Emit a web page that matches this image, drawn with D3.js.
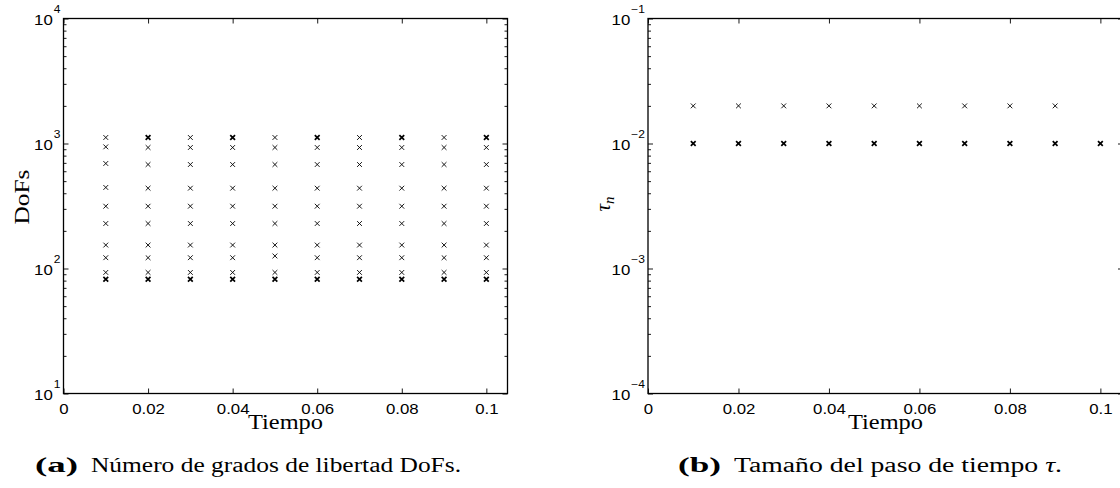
<!DOCTYPE html>
<html>
<head>
<meta charset="utf-8">
<script src="https://cdn.jsdelivr.net/npm/d3@7"></script>
<style>
  body { margin: 0; background: #fff; }
  text { fill: #000; }
</style>
</head>
<body>
<svg id="chart" width="1120" height="488"></svg>
<script>
// time steps (x axis of both panels)
const times = [0.01, 0.02, 0.03, 0.04, 0.05, 0.06, 0.07, 0.08, 0.09, 0.1];

// DoFs of every adaptive iteration at each time step (panel a)
const dofsOdd = [1117, 929, 679, 439, 315, 229, 154, 122, 93, 82, 82];
const dofsEven = [1117, 1117, 929, 679, 439, 315, 229, 154, 122, 93, 82, 82];
const dofs = [
  [1117, 940, 692, 445, 315, 229, 154, 122, 93, 82, 82],
  dofsEven,
  dofsOdd,
  dofsEven,
  [1117, 929, 679, 439, 315, 229, 154, 126, 93, 82, 82],
  dofsEven,
  dofsOdd,
  dofsEven,
  dofsOdd,
  dofsEven
];

// time step sizes tau_n tried at each time step (panel b)
const taus = [
  [0.02, 0.01, 0.01],
  [0.02, 0.01, 0.01],
  [0.02, 0.01, 0.01],
  [0.02, 0.01, 0.01],
  [0.02, 0.01, 0.01],
  [0.02, 0.01, 0.01],
  [0.02, 0.01, 0.01],
  [0.02, 0.01, 0.01],
  [0.02, 0.01, 0.01],
  [0.01, 0.01]
];

const xTicks = [0, 0.02, 0.04, 0.06, 0.08, 0.1];
const dofsDecades = [1, 2, 3, 4];
const tauDecades = [-4, -3, -2, -1];

const svg = d3.select('#chart');
const SX = 1.2; // the original figure is stretched horizontally

// widen a text to mimic the stretched figure
function stretch(sel, len) {
  sel.each(function () {
    const w = len || this.getComputedTextLength() * SX;
    d3.select(this).attr('textLength', w).attr('lengthAdjust', 'spacingAndGlyphs');
  });
}

const crossPath = s => `M${-s},${-s}L${s},${s}M${-s},${s}L${s},${-s}`;

function drawPanel(opt) {
  const { x0, x1, y0, y1 } = opt;
  const g = svg.append('g');

  const x = d3.scaleLinear().domain([0, 0.105]).range([x0, x1]);
  const y = d3.scaleLog().domain(opt.yDomain).range([y1, y0]);

  // markers (overlapping repeats drawn heavier)
  const pts = [];
  opt.series.forEach((vals, i) => {
    const counts = d3.rollup(vals, v => v.length, v => v);
    counts.forEach((n, v) => pts.push({ t: times[i], v, n }));
  });
  g.selectAll('path.mk')
    .data(pts)
    .enter()
    .append('path')
    .attr('class', 'mk')
    .attr('d', crossPath(2.4))
    .attr('transform', d => `translate(${x(d.t)},${y(d.v)})`)
    .attr('stroke', '#000')
    .attr('stroke-width', d => d.n > 1 ? 1.7 : 0.9)
    .attr('fill', 'none');

  // x axis ticks (inside, bottom and top)
  const xb = g.append('g')
    .attr('transform', `translate(0,${y1})`)
    .call(d3.axisBottom(x).tickValues(xTicks).tickSize(-5).tickPadding(11)
      .tickFormat(d => d3.format('~g')(d)));
  xb.select('.domain').remove();
  xb.selectAll('text')
    .attr('font-family', 'Liberation Sans, Arial, sans-serif')
    .attr('font-size', 14)
    .attr('dy', 0)
    .attr('y', 20)
    .call(stretch);
  const xt = g.append('g')
    .attr('transform', `translate(0,${y0})`)
    .call(d3.axisTop(x).tickValues(xTicks).tickSize(-5).tickFormat(''));
  xt.select('.domain').remove();

  // y axis ticks: majors and minors, left and right
  const minors = [];
  d3.range(opt.decades[0], opt.decades[opt.decades.length - 1]).forEach(e => {
    for (let m = 2; m <= 9; m++) minors.push(m * Math.pow(10, e));
  });
  const majors = opt.decades.map(e => Math.pow(10, e));
  [[d3.axisLeft, x0], [d3.axisRight, x1]].forEach(([ax, pos]) => {
    const a = g.append('g').attr('transform', `translate(${pos},0)`)
      .call(ax(y).tickValues(majors).tickSize(-5).tickFormat(''));
    a.select('.domain').remove();
    const b = g.append('g').attr('transform', `translate(${pos},0)`)
      .call(ax(y).tickValues(minors).tickSize(-3).tickFormat(''));
    b.select('.domain').remove();
  });
  g.selectAll('.tick line').attr('stroke', '#000').attr('stroke-width', 0.9);

  // y tick labels 10^e
  opt.decades.forEach(e => {
    const yy = y(Math.pow(10, e));
    const ex = g.append('text')
      .attr('x', x0 - 3).attr('y', yy - 6)
      .attr('text-anchor', 'end')
      .attr('font-family', 'Liberation Sans, Arial, sans-serif')
      .attr('font-size', 10)
      .text(e < 0 ? '\u2212' + Math.abs(e) : String(e))
      .call(stretch);
    const ew = ex.node().getComputedTextLength();
    g.append('text')
      .attr('x', x0 - 4 - ew).attr('y', yy + 6)
      .attr('text-anchor', 'end')
      .attr('font-family', 'Liberation Sans, Arial, sans-serif')
      .attr('font-size', 14)
      .text('10')
      .call(stretch);
  });

  // axes box
  g.append('rect')
    .attr('x', x0).attr('y', y0)
    .attr('width', x1 - x0).attr('height', y1 - y0)
    .attr('fill', 'none')
    .attr('stroke', '#000')
    .attr('stroke-width', 1.3);

  // x label
  g.append('text')
    .attr('x', (x0 + x1) / 2).attr('y', 429)
    .attr('text-anchor', 'middle')
    .attr('font-family', 'Liberation Serif, Times New Roman, serif')
    .attr('font-size', 21)
    .text('Tiempo')
    .call(stretch, 75);

  // caption
  g.append('text')
    .attr('x', opt.capX).attr('y', 472)
    .attr('font-family', 'Liberation Serif, Times New Roman, serif')
    .attr('font-size', 20)
    .attr('font-weight', 'bold')
    .text(opt.capTag)
    .call(stretch, 43);
  const cap = g.append('text')
    .attr('x', opt.capX + 56).attr('y', 472)
    .attr('font-family', 'Liberation Serif, Times New Roman, serif')
    .attr('font-size', 20);
  opt.capText(cap);
  stretch(cap, opt.capW);

  return g;
}

// panel (a)
const ga = drawPanel({
  x0: 63.5, x1: 507.5, y0: 18.5, y1: 393.5,
  yDomain: [10, 1e4], decades: dofsDecades, series: dofs,
  capX: 35, capTag: '(a)', capW: 370,
  capText: t => t.text('Número de grados de libertad DoFs.')
});
ga.append('text')
  .attr('transform', 'translate(29,197) rotate(-90)')
  .attr('text-anchor', 'middle')
  .attr('font-family', 'Liberation Serif, Times New Roman, serif')
  .attr('font-size', 22)
  .text('DoFs')
  .call(stretch, 55);

// panel (b)
const gb = drawPanel({
  x0: 648, x1: 1123, y0: 18.5, y1: 393.5,
  yDomain: [1e-4, 1e-1], decades: tauDecades, series: taus,
  capX: 678, capTag: '(b)', capW: 328,
  capText: t => {
    t.append('tspan').text('Tamaño del paso de tiempo ');
    t.append('tspan').attr('font-style', 'italic').text('τ');
    t.append('tspan').text('.');
  }
});
const tl = gb.append('text')
  .attr('transform', 'translate(610,204) rotate(-90)')
  .attr('text-anchor', 'middle')
  .attr('font-family', 'Liberation Serif, Times New Roman, serif')
  .attr('font-size', 21);
tl.append('tspan').attr('font-style', 'italic').text('τ');
tl.append('tspan').attr('font-style', 'italic').attr('font-size', 15).attr('dy', 4).text('n');
</script>
</body>
</html>
